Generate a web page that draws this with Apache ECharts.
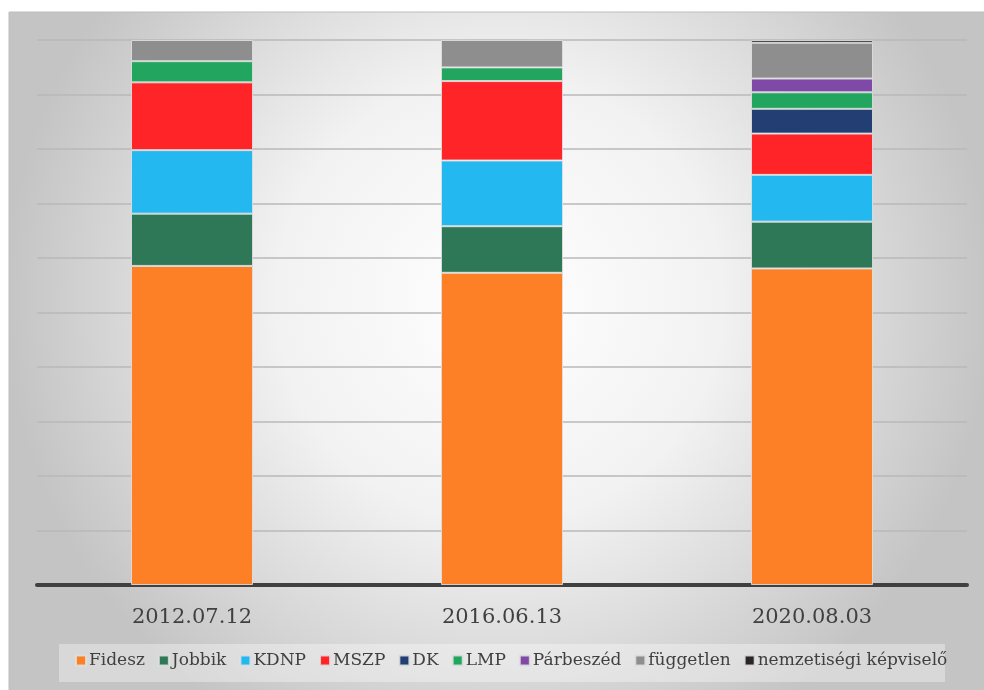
<!DOCTYPE html>
<html>
<head>
<meta charset="utf-8">
<script src="https://cdn.jsdelivr.net/npm/echarts@6/dist/echarts.min.js"></script>
<style>
  html, body { margin: 0; padding: 0; background: #fff; }
  #chart { width: 984px; height: 690px; }
</style>
</head>
<body>
<div id="chart"></div>
<script>
// ülésszámok időpontonként
const dates = ['2012.07.12', '2016.06.13', '2020.08.03']
const parties = ['Fidesz', 'Jobbik', 'KDNP', 'MSZP', 'DK', 'LMP', 'Párbeszéd', 'független', 'nemzetiségi képviselő']
const colors = ['#fd7f26', '#2e7858', '#23b8ef', '#fe2427', '#223e73', '#22a55e', '#7f4aa7', '#8e8e8e', '#2a2526']

const fidesz = [226, 114, 115]
const jobbik = [37, 17, 17]
const kdnp = [45, 24, 17]
const mszp = [48, 29, 15]
const dk = [0, 0, 9]
const lmp = [15, 5, 6]
const parbeszed = [0, 0, 5]
const fuggetlen = [15, 10, 13]
const nemzetisegi = [0, 0, 1]

const values = [fidesz, jobbik, kdnp, mszp, dk, lmp, parbeszed, fuggetlen, nemzetisegi]
// 100%-os halmozás
const totals = dates.map((d, i) => values.reduce((s, arr) => s + arr[i], 0))

const chart = echarts.init(document.getElementById('chart'))

const series = parties.map((name, k) => ({
  name: name,
  type: 'bar',
  stack: 'all',
  barWidth: 122,
  data: values[k].map((v, i) => (v === 0 ? null : v / totals[i] * 100)),
  itemStyle: {
    color: colors[k],
    borderColor: 'rgba(225,225,225,0.85)',
    borderWidth: 1
  }
}))

const option = {
  animation: false,
  graphic: [
    {
      type: 'rect',
      z: -10,
      silent: true,
      shape: { x: 9, y: 12, width: 980, height: 684 },
      style: {
        fill: new echarts.graphic.RadialGradient(0.5, 0.42, 0.72, [
          { offset: 0, color: '#ffffff' },
          { offset: 0.45, color: '#f2f2f2' },
          { offset: 1, color: '#c4c4c4' }
        ]),
        stroke: '#bdbdbd',
        lineWidth: 1
      }
    },
    {
      type: 'rect',
      z: -5,
      silent: true,
      shape: { x: 59, y: 644, width: 886, height: 38 },
      style: { fill: 'rgba(255,255,255,0.35)' }
    }
  ],
  grid: { left: 37, right: 17, top: 40, bottom: 105 },
  legend: {
    data: parties,
    bottom: 16,
    left: 70,
    itemWidth: 10,
    itemHeight: 10,
    itemGap: 13,
    icon: 'rect',
    textStyle: { fontFamily: 'DejaVu Serif', fontSize: 17, color: '#404040', padding: [0, 0, 0, -2] }
  },
  xAxis: {
    type: 'category',
    data: dates,
    axisTick: { show: false },
    axisLine: { lineStyle: { color: '#404040', width: 4 } },
    axisLabel: { fontFamily: 'DejaVu Serif', fontSize: 21, color: '#404040', margin: 22 }
  },
  yAxis: {
    type: 'value',
    min: 0,
    max: 100,
    interval: 10,
    axisLabel: { show: false },
    axisLine: { show: false },
    axisTick: { show: false },
    splitLine: { lineStyle: { color: '#b9b9b9', width: 1.5 } }
  },
  series: series
}

chart.setOption(option)
</script>
</body>
</html>
